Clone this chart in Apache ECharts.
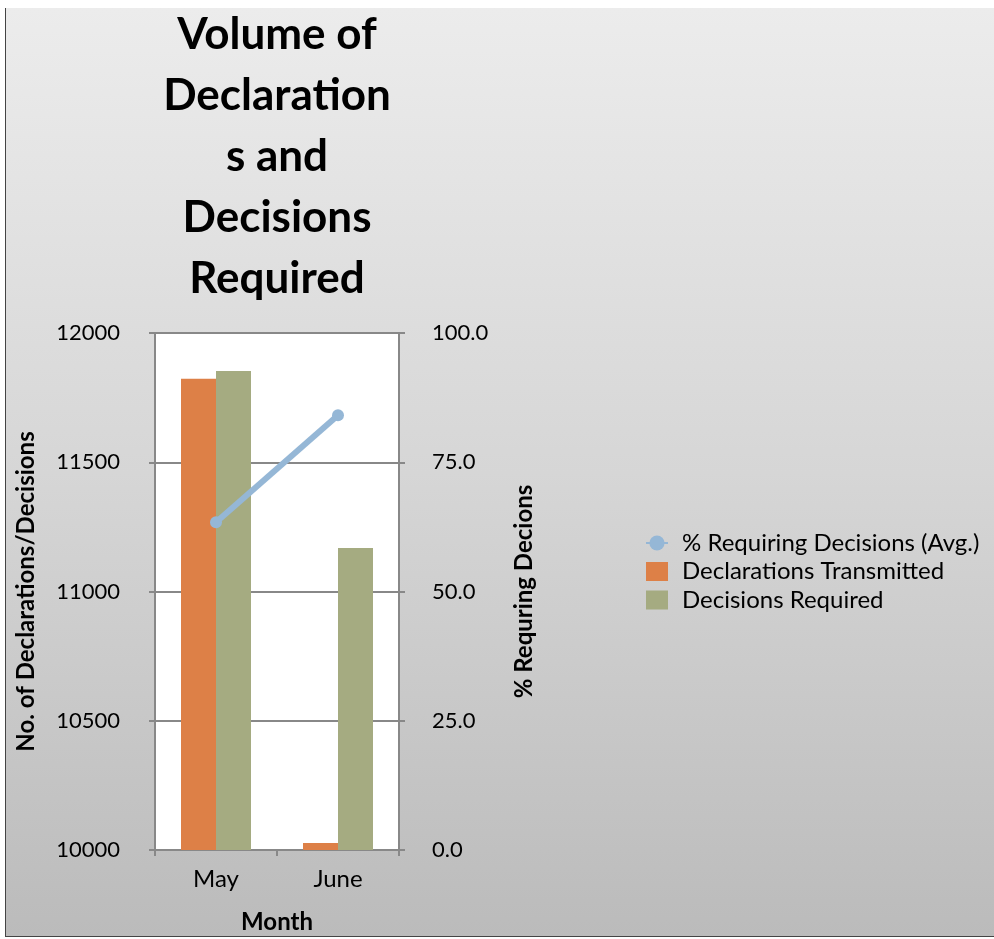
<!DOCTYPE html>
<html><head><meta charset="utf-8">
<script src="https://cdn.jsdelivr.net/npm/echarts@6/dist/echarts.min.js"></script>
<style>
html,body{margin:0;padding:0;background:#fff;width:994px;height:939px;overflow:hidden;}
#bg{position:absolute;left:5px;top:8px;width:989px;height:929px;border-left:1px solid #444;border-bottom:1px solid #444;box-sizing:border-box;background:linear-gradient(to bottom,#ececec 0%,#d6d6d6 50%,#bbbbbb 100%);}
#chart{position:absolute;left:0;top:0;width:994px;height:939px;}
</style></head>
<body><div id="bg"></div><div id="chart"></div>
<script>
const categories = ['May', 'June'];
const declarationsTransmitted = [11823, 10027];
const decisionsRequired = [11853, 11168];
const pctRequiringDecisions = [63.4, 84.1];
const leftTicks = [10000, 12000, 500];
const rightTicks = [0, 100, 25];

const font = 'Lato, "Open Sans", sans-serif';
const chart = echarts.init(document.getElementById('chart'), null, {renderer: 'canvas'});
chart.setOption({
  backgroundColor: 'transparent',
  textStyle: {fontFamily: font},
  title: {
    text: 'Volume of\nDeclaration\ns and\nDecisions\nRequired',
    left: 272, top: -1, textAlign: 'center',
    textStyle: {fontFamily: font, fontSize: 44, fontWeight: 'bold', color: '#000', lineHeight: 61}
  },
  legend: {
    orient: 'vertical', left: 640, top: 526, itemGap: 4.5,
    itemWidth: 22, itemHeight: 19,
    textStyle: {fontFamily: font, fontSize: 24, color: '#000', padding: [0, 0, 0, 9]},
    data: [
      {name: '% Requiring Decisions (Avg.)'},
      {name: 'Declarations Transmitted', icon: 'rect'},
      {name: 'Decisions Required', icon: 'rect'}
    ]
  },
  grid: {left: 155, top: 333, width: 244, height: 519, show: true, backgroundColor: '#fff', borderWidth: 0},
  xAxis: {
    type: 'category', data: categories,
    name: 'Month', nameLocation: 'middle', nameGap: 60,
    nameTextStyle: {fontFamily: font, fontSize: 24, fontWeight: 'bold', color: '#000'},
    axisLine: {lineStyle: {color: '#888', width: 2}},
    axisTick: {show: true, length: 6, lineStyle: {color: '#888', width: 2}},
    axisLabel: {fontFamily: font, fontSize: 24, color: '#000', margin: 17}
  },
  yAxis: [
    {
      type: 'value', min: leftTicks[0], max: leftTicks[1], interval: leftTicks[2],
      name: 'No. of Declarations/Decisions', nameLocation: 'middle', nameGap: 117, nameRotate: 90,
      nameTextStyle: {fontFamily: font, fontSize: 24, fontWeight: 'bold', color: '#000'},
      axisLine: {show: true, lineStyle: {color: '#888', width: 2}},
      axisTick: {show: true, length: 6, lineStyle: {color: '#888', width: 2}},
      axisLabel: {fontFamily: font, fontSize: 22, color: '#000', margin: 35,
        formatter: v => String(v)},
      splitLine: {show: true, lineStyle: {color: '#888', width: 2}}
    },
    {
      type: 'value', min: rightTicks[0], max: rightTicks[1], interval: rightTicks[2],
      position: 'right',
      name: '% Requring Decions', nameLocation: 'middle', nameGap: 113, nameRotate: 90,
      nameTextStyle: {fontFamily: font, fontSize: 24, fontWeight: 'bold', color: '#000'},
      axisLine: {show: true, lineStyle: {color: '#888', width: 2}},
      axisTick: {show: true, length: 6, lineStyle: {color: '#888', width: 2}},
      axisLabel: {fontFamily: font, fontSize: 22, color: '#000', margin: 33,
        formatter: v => v.toFixed(1)},
      splitLine: {show: false}
    }
  ],
  series: [
    {
      name: 'Declarations Transmitted', type: 'bar', yAxisIndex: 0,
      data: declarationsTransmitted, barWidth: 35, barGap: '0%',
      itemStyle: {color: '#dd8047'}
    },
    {
      name: 'Decisions Required', type: 'bar', yAxisIndex: 0,
      data: decisionsRequired, barWidth: 35, barGap: '0%',
      itemStyle: {color: '#a5ab81'}
    },
    {
      name: '% Requiring Decisions (Avg.)', type: 'line', yAxisIndex: 1,
      data: pctRequiringDecisions, symbol: 'circle', symbolSize: 12,
      lineStyle: {color: '#95b7d6', width: 6},
      itemStyle: {color: '#95b7d6'}, z: 5
    }
  ],
  animation: false
});
</script></body></html>
